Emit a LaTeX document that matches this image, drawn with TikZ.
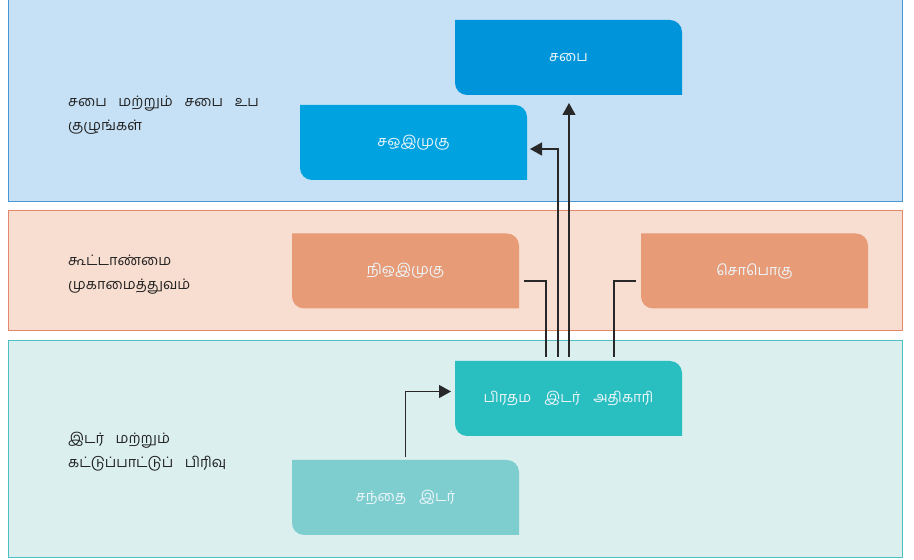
\documentclass[tikz,border=0pt]{standalone}
\usepackage{fontspec}
\setmainfont[Script=Tamil]{Hind Madurai}
\usetikzlibrary{positioning, arrows.meta, calc, backgrounds}

\definecolor{bandblue}{RGB}{198,225,245}
\definecolor{bandblueline}{RGB}{74,150,211}
\definecolor{bandorange}{RGB}{248,222,209}
\definecolor{bandorangeline}{RGB}{229,135,106}
\definecolor{bandteal}{RGB}{218,239,238}
\definecolor{bandtealline}{RGB}{77,193,193}
\definecolor{sabaiblue}{RGB}{0,149,218}
\definecolor{saoiblue}{RGB}{0,162,223}
\definecolor{boxorange}{RGB}{232,155,119}
\definecolor{boxteal}{RGB}{41,190,191}
\definecolor{boxlightteal}{RGB}{126,206,207}
\definecolor{boxtext}{RGB}{236,246,251}
\definecolor{labeltext}{RGB}{34,34,34}
\definecolor{linegray}{RGB}{40,40,40}

\newcommand{\unitfont}{\fontsize{14.5}{16}\selectfont\spaceskip 0.9em\relax}
\newcommand{\layerfont}{\fontsize{14.5}{24}\selectfont\spaceskip 0.8em\relax}

\begin{document}
\begin{tikzpicture}[
    x=1pt, y=1pt,
    unit/.style={
        rectangle,
        draw=none,
        minimum width=227pt,
        minimum height=75pt,
        inner sep=0pt,
        outer sep=0pt,
        text=boxtext,
        font=\unitfont
    },
    band/.style={
        line width=1pt
    },
    layer/.style={
        anchor=west,
        align=left,
        inner sep=0pt,
        text=labeltext,
        font=\layerfont
    },
    link/.style={
        draw=linegray,
        line width=1.2pt
    },
    arrow/.style={
        link,
        -{Triangle[length=12pt, width=13pt]}
    }
]
    \useasboundingbox (0,0) rectangle (914,560);

    % -- Units --
    \node[unit] (sabai) at (568.5,502.5) {சபை};
    \node[unit] (saoi) at (413.5,417.5) {சஒஇமுகு};
    \node[unit] (nioi) at (405.5,289) {நிஒஇமுகு};
    \node[unit] (sopo) at (754.5,289) {சொபொகு};
    \node[unit] (cro) at (568.5,161.5) {பிரதம இடர் அதிகாரி};
    \node[unit] (market) at (405.5,62.5) {சந்தை இடர்};

    % -- Layer labels --
    \node[layer] (board) at (68,445) {சபை மற்றும் சபை உப\\குழுங்கள்};
    \node[layer] (corp) at (68,285.5) {கூட்டாண்மை\\முகாமைத்துவம்};
    \node[layer] (risk) at (68,108) {இடர் மற்றும்\\கட்டுப்பாட்டுப் பிரிவு};

    % -- Bands and unit shapes behind --
    \begin{scope}[on background layer]
        \filldraw[band, fill=bandblue, draw=bandblueline] (8,358) rectangle (902,563);
        \filldraw[band, fill=bandorange, draw=bandorangeline] (8,229) rectangle (902,349);
        \filldraw[band, fill=bandteal, draw=bandtealline] (8,2) rectangle (902,219);

        \foreach \n/\c in {sabai/sabaiblue, saoi/saoiblue, nioi/boxorange,
                           sopo/boxorange, cro/boxteal, market/boxlightteal}
            \fill[\c] (\n.north west) -- ([xshift=-12pt]\n.north east)
                arc[start angle=90, end angle=0, radius=12pt]
                -- (\n.south east) -- ([xshift=12pt]\n.south west)
                arc[start angle=270, end angle=180, radius=12pt] -- cycle;
    \end{scope}

    % -- Reporting lines --
    % market risk up to CRO
    \draw[arrow] ([yshift=3pt]market.north) |- ([xshift=-4pt, yshift=7pt]cro.west);
    % CRO to the committees
    \draw[link] ([xshift=-22.5pt, yshift=4pt]cro.north) |- ([xshift=5pt, yshift=-10pt]nioi.east);
    \draw[arrow] ([xshift=-10.5pt, yshift=4pt]cro.north) |- ([xshift=3pt, yshift=-6.5pt]saoi.east);
    \draw[arrow] ([xshift=0.5pt, yshift=4pt]cro.north) -- ([xshift=0.5pt, yshift=-8pt]sabai.south);
    \draw[link] ([xshift=45.5pt, yshift=4pt]cro.north) |- ([xshift=-5pt, yshift=-10pt]sopo.west);

\end{tikzpicture}
\end{document}
